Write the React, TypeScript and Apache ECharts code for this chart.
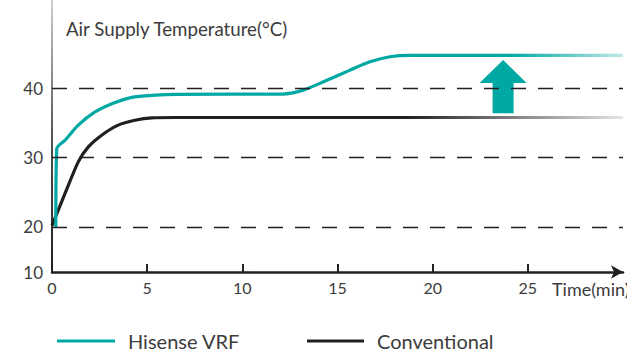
import { useEffect, useRef } from 'react';
import * as echarts from 'echarts';

// Time axis (minutes) and temperature axis (°C) tick values
const timeTicks = [0, 5, 10, 15, 20, 25];
const tempTicks = [10, 20, 30, 40];
const guideTemps = [20, 30, 40];

// Air supply temperature over time, [minute, °C]
const hisenseVrf: [number, number][] = [
  [0.2, 20], [0.25, 31.3], [0.68, 32.5], [1.38, 34.7], [2.26, 36.6], [3.14, 37.8],
  [4.19, 38.7], [5.24, 39.0], [6.6, 39.15], [12.1, 39.18], [13.2, 39.75],
  [14.26, 40.95], [15.66, 42.64], [16.7, 43.84], [17.76, 44.57], [18.8, 44.77],
  [30, 44.77],
];
const conventional: [number, number][] = [
  [0, 20.2], [0.68, 24.8], [1.38, 29.4], [1.91, 31.56], [2.61, 33.25], [3.48, 34.7],
  [4.36, 35.4], [5.24, 35.75], [6.5, 35.8], [30, 35.8],
];

// Block arrow marking the temperature rise: [minute, from °C, to °C]
const riseArrow: [number, number, number][] = [[23.7, 36.4, 44.1]];

const TEAL = '#00a8a3';
const INK = '#231f20';
const TEXT = '#3c3c3c';
const FONT = 'Lato';

export default function App() {
  const ref = useRef<HTMLDivElement>(null);

  useEffect(() => {
    if (!ref.current) return;
    const chart = echarts.init(ref.current, null, { renderer: 'svg' });

    const tealFade = new echarts.graphic.LinearGradient(52, 0, 623, 0, [
      { offset: 0, color: TEAL },
      { offset: 0.8, color: TEAL },
      { offset: 1, color: 'rgba(0,168,163,0.25)' },
    ], true);
    const inkFade = new echarts.graphic.LinearGradient(52, 0, 623, 0, [
      { offset: 0, color: INK },
      { offset: 0.62, color: INK },
      { offset: 1, color: 'rgba(35,31,32,0.12)' },
    ], true);
    const axisFade = new echarts.graphic.LinearGradient(0, 0, 0, 272, [
      { offset: 0, color: '#d0d0d0' },
      { offset: 0.5, color: '#555' },
      { offset: 1, color: INK },
    ], true);

    const legendText = { fontFamily: FONT, fontSize: 20, color: TEXT, lineHeight: 20 };

    chart.setOption({
      animation: false,
      backgroundColor: '#fff',
      title: {
        text: 'Air Supply Temperature(°C)',
        left: 61,
        top: 14,
        textStyle: { fontFamily: FONT, fontSize: 18.7, fontWeight: 'normal', color: TEXT },
      },
      legend: [
        {
          data: [{ name: 'Hisense VRF', itemStyle: { color: TEAL } }],
          left: 57, top: 331, padding: 0, icon: 'rect', itemWidth: 58, itemHeight: 3,
          selectedMode: false,
          textStyle: { ...legendText, padding: [0, 0, 0, 8] },
        },
        {
          data: [{ name: 'Conventional', itemStyle: { color: INK } }],
          left: 307, top: 331, padding: 0, icon: 'rect', itemWidth: 57, itemHeight: 3,
          selectedMode: false,
          textStyle: { ...legendText, padding: [0, 0, 0, 8] },
        },
      ],
      grid: { left: 52, right: 4, top: 0, bottom: 78, containLabel: false },
      xAxis: {
        type: 'value',
        min: 0,
        max: 30,
        interval: 5,
        axisLine: {
          onZero: false,
          symbol: ['none', 'arrow'],
          symbolSize: [10, 12],
          lineStyle: { color: INK, width: 2.5 },
        },
        axisTick: {
          inside: true,
          length: 8,
          customValues: timeTicks,
          lineStyle: { color: INK, width: 2 },
        },
        axisLabel: {
          customValues: timeTicks,
          margin: 7,
          fontFamily: FONT,
          fontSize: 16,
          color: TEXT,
        },
        splitLine: { show: false },
      },
      yAxis: {
        type: 'value',
        min: 10,
        max: 52.76,
        interval: 10,
        breaks: [{ start: 10, end: 13.5, gap: 0 }],
        breakArea: { show: false },
        axisLine: { show: true, lineStyle: { color: axisFade, width: 2 } },
        axisTick: { show: false },
        axisLabel: {
          customValues: tempTicks,
          margin: 9,
          fontFamily: FONT,
          fontSize: 17,
          color: TEXT,
        },
        splitLine: { show: false },
      },
      series: [
        {
          name: 'Hisense VRF',
          type: 'line',
          data: hisenseVrf,
          smooth: 0.25,
          showSymbol: false,
          symbol: 'none',
          itemStyle: { color: TEAL },
          lineStyle: { color: tealFade, width: 3.2 },
          z: 3,
        },
        {
          name: 'Conventional',
          type: 'line',
          data: conventional,
          smooth: 0.25,
          showSymbol: false,
          symbol: 'none',
          itemStyle: { color: INK },
          lineStyle: { color: inkFade, width: 3.2 },
          z: 2,
          markLine: {
            silent: true,
            symbol: ['none', 'none'],
            label: { show: false },
            lineStyle: { color: INK, width: 1.3, type: [15, 12] },
            data: guideTemps.map((t) => ({ yAxis: t })),
          },
        },
        {
          name: 'rise',
          type: 'custom',
          data: riseArrow,
          encode: { x: 0, y: [1, 2] },
          z: 4,
          renderItem: (_params: any, api: any) => {
            const t = api.value(0);
            const top = api.coord([t, api.value(2)]);
            const bottom = api.coord([t, api.value(1)]);
            const cx = top[0];
            const headHalf = 23.5;
            const shaftHalf = 10.5;
            const headH = 23;
            return {
              type: 'polygon',
              shape: {
                points: [
                  [cx, top[1]],
                  [cx + headHalf, top[1] + headH],
                  [cx + shaftHalf, top[1] + headH],
                  [cx + shaftHalf, bottom[1]],
                  [cx - shaftHalf, bottom[1]],
                  [cx - shaftHalf, top[1] + headH],
                  [cx - headHalf, top[1] + headH],
                ],
              },
              style: { fill: TEAL },
            };
          },
        },
      ],
      graphic: [
        {
          type: 'text',
          left: 552,
          top: 280,
          style: { text: 'Time(min)', fontFamily: FONT, fontSize: 18, fill: TEXT },
        },
      ],
    });

    return () => chart.dispose();
  }, []);

  return (
    <div
      ref={ref}
      style={{ position: 'fixed', left: 0, top: 0, width: 627, height: 350 }}
    />
  );
}
